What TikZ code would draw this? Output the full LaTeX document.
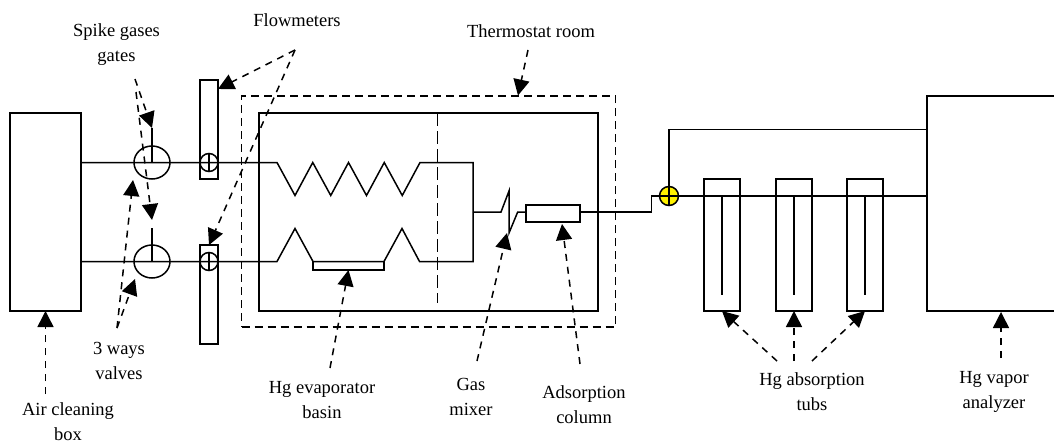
\documentclass[tikz,border=0pt]{standalone}
\usepackage{fontspec}
\setmainfont{Liberation Serif}
\usetikzlibrary{arrows.meta,positioning,calc,shapes.geometric}

\begin{document}
\begin{tikzpicture}[x=1pt,y=-1pt,
  font=\fontsize{18.5}{25}\selectfont,
  line width=1.5pt,
  box/.style={draw, inner sep=0pt, outer sep=0pt},
  valve/.style={box, ellipse, minimum width=36pt, minimum height=33pt},
  flowdot/.style={box, circle, minimum size=18pt},
  meter/.style={box, minimum width=18pt, minimum height=99pt},
  tub/.style={box, minimum width=36pt, minimum height=132pt},
  lbl/.style={align=center, inner sep=0pt},
  arr/.style={-{Triangle[length=16pt,width=16pt]}, dash pattern=on 7pt off 6pt}]
\useasboundingbox (0,0) rectangle (1054,444);
% ----- cleaning box, valves, flowmeters
\node[box, minimum width=71pt, minimum height=198pt] (air) at (45.5,212) {};
\node[valve] (valveA) at (152,162.5) {};
\node[valve] (valveB) at (152,261.5) {};
\node[meter] (meterA) at (209,129.5) {};
\node[meter] (meterB) at (209,294.5) {};
\node[flowdot] (dotA) at (209,162.5) {};
\node[flowdot] (dotB) at (209,261.5) {};
\foreach \n in {dotA,dotB} \draw (\n.north) -- (\n.south);
\draw (valveA.center) -- (152,128);
\draw (valveB.center) -- (152,228);
% ----- thermostat room
\node[box, dash pattern=on 8pt off 5pt, minimum width=374pt, minimum height=231pt] (room) at (428.5,211.5) {};
\node[box, minimum width=339pt, minimum height=198pt] (oven) at (428.5,212) {};
\draw[dash pattern=on 13pt off 5pt] (oven.north-|437.5,0) -- (437.5,303);
% ----- saturator pipes
\coordinate (zigA) at (277,162.5);
\coordinate (zigB) at (277,261.5);
\coordinate (join) at (473,212);
\node[box, minimum width=71pt, minimum height=8.5pt, anchor=north west] (basin) at (313,261.5) {};
\draw (air.east|-valveA) -- (zigA) \foreach \i in {1,...,4} {-- ++(18,33) -- ++(17.75,-33)} -- (473,162.5) -- (join);
\draw (air.east|-valveB) -- (zigB) -- ++(18,-33) -- (basin.north west) -- (basin.north east) -- ++(18,-33) -- ++(17.5,33) -- (473,261.5) -- (join);
% ----- mixer and column
\node[box, minimum width=54pt, minimum height=17pt] (column) at (553,213.5) {};
\draw (join) -- (501,212) -- (509,191) -- (509,233) -- (517.7,212) -- (column.west|-join);
\node[box, circle, fill=yellow, minimum size=19pt] (tee) at (669,196) {};
\draw (column.east|-join) -- (651.7,212) -- (651.7,196) -- (tee.west);
\draw (tee.west) -- (tee.east) (tee.north) -- (tee.south);
% ----- absorption tubs and analyzer
\coordinate (anaTL) at (927,96);
\coordinate (anaBL) at (927,311);
\draw (1054,96) -- (anaTL) -- (anaBL) -- (1054,311);
\foreach \n/\x in {tubA/722,tubB/794,tubC/865} {
  \node[tub] (\n) at (\x,245) {};
  \draw (\x,196) -- (\x,295);
}
\draw (tee.east) -- (tee.east-|anaTL);
\draw (tee.north) -- (tee.north|-0,129.5) -- (anaTL|-0,129.5);
% ----- labels
\node[lbl] (spike) at (116.5,45) {Spike gases\\gates};
\node[lbl] (flow) at (297,20) {Flowmeters};
\node[lbl] (thermo) at (531,31) {Thermostat room};
\node[lbl] (ways) at (119,361) {3 ways\\valves};
\node[lbl] (clean) at (68,422) {Air cleaning\\box};
\node[lbl] (evap) at (322,400) {Hg evaporator\\basin};
\node[lbl] (mixer) at (471,397) {Gas\\mixer};
\node[lbl] (adsorb) at (584,405) {Adsorption\\column};
\node[lbl] (tubs) at (812,392) {Hg absorption\\tubs};
\node[lbl] (vapor) at (994,392) {Hg vapor\\analyzer};
% ----- free ends of the pointers
\coordinate (spikeA) at (135,79);
\coordinate (spikeB) at (136,92);
\coordinate (flowO) at (295,50);
\coordinate (thermoO) at (528,50);
\coordinate (waysO) at (117,328);
\coordinate (cleanO) at (45.5,394);
\coordinate (tubsA) at (777,361);
\coordinate (tubsC) at (812,361);
% ----- pointers
\draw[arr] (spikeA) -- (152,128);
\draw[arr] (spikeB) -- (152,220);
\draw[arr] (flowO) -- (meterA.north east|-0,89);
\draw[arr] (flowO) -- (meterB.north);
\draw[arr] (thermoO) -- (518,95.5);
\draw[arr] (waysO) -- (133,180);
\draw[arr] (waysO) -- (135,279);
\draw[arr] (cleanO) -- (air.south);
\draw[arr] (330,368) -- (basin.south);
\draw[arr] (477,361) -- (507,233);
\draw[arr] (580,364) -- (562,224);
\draw[arr] (tubsA) -- (tubA.south);
\draw[arr] (794,361) -- (tubB.south);
\draw[arr] (tubsC) -- (tubC.south);
\draw[arr] (1001,358) -- (1001,312);
\end{tikzpicture}
\end{document}
